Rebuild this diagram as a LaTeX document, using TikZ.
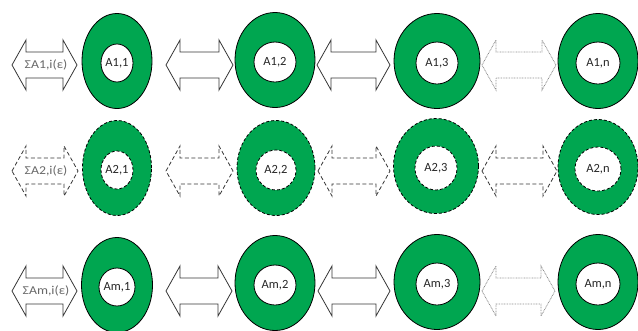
\documentclass[tikz,border=0pt]{standalone}
\usepackage{fontspec}
\setmainfont{Carlito}
\usetikzlibrary{shapes.geometric}
\definecolor{ringgreen}{RGB}{0,166,80}
\definecolor{arrowgray}{RGB}{55,55,55}
\definecolor{dotgray}{RGB}{140,140,140}
\definecolor{labelgray}{RGB}{105,105,105}
\tikzset{
  outer/.style={ellipse, draw=black, line width=0.8pt, fill=ringgreen, minimum height=95pt, inner sep=0pt},
  hole/.style={ellipse, draw=black, line width=0.8pt, fill=white, inner sep=0pt},
  lbl/.style={font=\fontsize{12.5}{12.5}\selectfont, text=black!85, inner sep=0pt},
  arrtxt/.style={font=\fontsize{12}{12}\selectfont, text=labelgray, inner sep=0pt, xscale=1.15},
  arrowsolid/.style={draw=arrowgray, line width=0.8pt, fill=white, line join=miter},
  arrowdash/.style={draw=arrowgray, line width=0.8pt, fill=white, dash pattern=on 4pt off 2.5pt},
  arrowdot/.style={draw=dotgray, line width=0.8pt, fill=white, dash pattern=on 0.8pt off 0.8pt},
  ringdash/.style={dash pattern=on 3pt off 2pt}
}
\newcommand\mkarrow[4]{% style, x0, x1, y
  \pgfmathsetmacro\barlen{#3-#2}
  \draw[#1] (#2,#4) -- +(14,-25) -- +(14,-13) -- +(\barlen-14,-13) -- +(\barlen-14,-25)
    -- +(\barlen,0) -- +(\barlen-14,25) -- +(\barlen-14,13) -- +(14,13) -- +(14,25) -- cycle;}
\newcommand\mkring[8]{% name, x, y, outer w, hole w, hole h, text, extra style
  \node[outer,#8,minimum width=#4pt] (o#1) at (#2,#3) {};
  \node[hole,#8,minimum width=#5pt,minimum height=#6pt] (h#1) at (#2,#3+2) {};
  \node[lbl] (t#1) at (h#1) {#7};}
\begin{document}
\begin{tikzpicture}[x=1pt,y=-1pt]
\useasboundingbox (0,0) rectangle (638,330);
% row 1
\mkring{11}{117}{61}{70}{32}{38}{A1,1}{}
\mkring{12}{275}{60}{80}{42}{40}{A1,2}{}
\mkring{13}{437}{61}{86}{42}{42}{A1,3}{}
\mkring{14}{598}{61}{80}{44}{42}{A1,n}{}
\mkarrow{arrowsolid}{12}{77}{65}
\mkarrow{arrowsolid}{166}{233}{65}
\mkarrow{arrowsolid}{317}{390}{65}
\mkarrow{arrowdot}{482}{556}{65}
\node[arrtxt] (s1) at (46,65) {ΣA1,i(ε)};
% row 2
\mkring{21}{117}{168}{69}{32}{38}{A2,1}{ringdash}
\mkring{22}{276}{168}{78}{40}{40}{A2,2}{ringdash}
\mkring{23}{436}{166}{85}{42}{44}{A2,3}{ringdash}
\mkring{24}{598}{167}{80}{46}{44}{A2,n}{ringdash}
\mkarrow{arrowdash}{12}{78}{171}
\mkarrow{arrowdash}{166}{233}{171}
\mkarrow{arrowdash}{318}{390}{171}
\mkarrow{arrowdash}{482}{557}{171}
\node[arrtxt] (s2) at (46,171) {ΣA2,i(ε)};
% row 3
\mkring{31}{117}{285}{71}{36}{38}{Am,1}{}
\mkring{32}{275}{283}{80}{42}{40}{Am,2}{}
\mkring{33}{437}{282}{86}{42}{42}{Am,3}{}
\mkring{34}{598}{282}{80}{44}{42}{Am,n}{}
\mkarrow{arrowsolid}{12}{77}{291}
\mkarrow{arrowsolid}{166}{232}{291}
\mkarrow{arrowsolid}{318}{390}{291}
\mkarrow{arrowdot}{482}{555}{291}
\node[arrtxt] (s3) at (46,291) {ΣAm,i(ε)};
\end{tikzpicture}
\end{document}
